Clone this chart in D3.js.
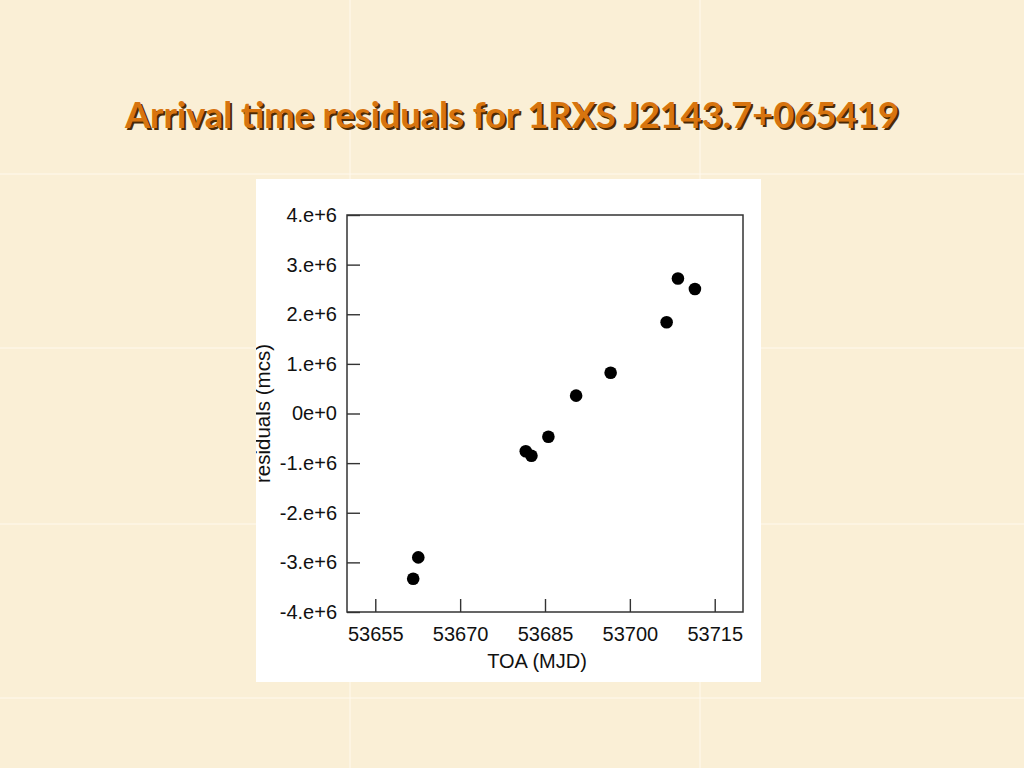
<!DOCTYPE html>
<html>
<head>
<meta charset="utf-8">
<script src="https://cdn.jsdelivr.net/npm/d3@7/dist/d3.min.js"></script>
<style>
  html, body { margin: 0; padding: 0; background: #FAEFD6; }
  svg { display: block; }
</style>
</head>
<body>
<svg id="chart" width="1024" height="768"></svg>
<script>
// ---- data ----
const title = "Arrival time residuals for 1RXS J2143.7+065419";
const toaMJD = [53661.7, 53662.6, 53681.6, 53682.6, 53685.6, 53690.5, 53696.6, 53706.5, 53708.5, 53711.5];
const residualsMcs = [-3.33e6, -2.90e6, -0.76e6, -0.85e6, -0.47e6, 0.36e6, 0.82e6, 1.84e6, 2.72e6, 2.51e6];
const xTicks = [53655, 53670, 53685, 53700, 53715];
const yTicks = [-4e6, -3e6, -2e6, -1e6, 0, 1e6, 2e6, 3e6, 4e6];
const yTickLabels = ["-4.e+6", "-3.e+6", "-2.e+6", "-1.e+6", "0e+0", "1.e+6", "2.e+6", "3.e+6", "4.e+6"];
const xLabel = "TOA (MJD)";
const yLabel = "residuals (mcs)";

const svg = d3.select("#chart");

// background with tile seams
svg.append("rect").attr("width", 1024).attr("height", 768).attr("fill", "#FAEFD6");
const seamsX = [350, 700];
const seamsY = [174, 348, 524, 698];
svg.selectAll("line.sx").data(seamsX).enter().append("line")
  .attr("x1", d => d).attr("x2", d => d).attr("y1", 0).attr("y2", 768)
  .attr("stroke", "#FFF9EE").attr("stroke-width", 1);
svg.selectAll("line.sy").data(seamsY).enter().append("line")
  .attr("x1", 0).attr("x2", 1024).attr("y1", d => d).attr("y2", d => d)
  .attr("stroke", "#FFF9EE").attr("stroke-width", 1);

// title with shadow
const tg = svg.append("g");
const titleFont = "'Comic Sans MS', Lato, 'DejaVu Sans', sans-serif";
tg.append("text").attr("x", 514).attr("y", 130).attr("text-anchor", "middle")
  .attr("font-family", titleFont).attr("font-size", 36).attr("font-weight", "bold")
  .attr("textLength", 774).attr("lengthAdjust", "spacingAndGlyphs")
  .attr("fill", "#4A2A05").text(title);
tg.append("text").attr("x", 512).attr("y", 128).attr("text-anchor", "middle")
  .attr("font-family", titleFont).attr("font-size", 36).attr("font-weight", "bold")
  .attr("textLength", 774).attr("lengthAdjust", "spacingAndGlyphs")
  .attr("fill", "#D7740F").text(title);

// white panel
const panel = { x: 256, y: 179, w: 505, h: 503 };
svg.append("defs").append("clipPath").attr("id", "pclip")
  .append("rect").attr("x", panel.x).attr("y", panel.y).attr("width", panel.w).attr("height", panel.h);
svg.append("rect").attr("x", panel.x).attr("y", panel.y).attr("width", panel.w).attr("height", panel.h).attr("fill", "#FFFFFF");

const plot = { left: 347, right: 743, top: 215, bottom: 612 };
const x = d3.scaleLinear().domain([53650, 53720]).range([plot.left, plot.right]);
const y = d3.scaleLinear().domain([-4e6, 4e6]).range([plot.bottom, plot.top]);

const g = svg.append("g").attr("clip-path", "url(#pclip)");
const font = "Arial, 'Liberation Sans', sans-serif";

// axes (inward ticks)
const yAxis = d3.axisLeft(y).tickValues(yTicks).tickSize(-13)
  .tickFormat((d, i) => yTickLabels[i]).tickPadding(10);
const yg = g.append("g").attr("transform", `translate(${plot.left},0)`).call(yAxis);
const xAxis = d3.axisBottom(x).tickValues(xTicks).tickSize(-13).tickFormat(d3.format("d")).tickPadding(15);
const xg = g.append("g").attr("transform", `translate(0,${plot.bottom})`).call(xAxis);
[yg, xg].forEach(a => {
  a.select(".domain").remove();
  a.selectAll(".tick line").attr("stroke", "#333").attr("stroke-width", 1.4);
  a.selectAll(".tick text").attr("font-family", font).attr("font-size", 20).attr("fill", "#111");
});

// frame
g.append("rect").attr("x", plot.left).attr("y", plot.top)
  .attr("width", plot.right - plot.left).attr("height", plot.bottom - plot.top)
  .attr("fill", "none").attr("stroke", "#333").attr("stroke-width", 1.5);

// axis labels
g.append("text").attr("x", (plot.left + plot.right) / 2 - 8).attr("y", 668)
  .attr("text-anchor", "middle").attr("font-family", font).attr("font-size", 20).attr("fill", "#111").text(xLabel);
g.append("text").attr("transform", `translate(270,${(plot.top + plot.bottom) / 2}) rotate(-90)`)
  .attr("text-anchor", "middle").attr("font-family", font).attr("font-size", 20.5).attr("fill", "#111").text(yLabel);

// points
const pts = toaMJD.map((m, i) => ({ m, r: residualsMcs[i] }));
g.selectAll("circle.pt").data(pts).enter().append("circle").attr("class", "pt")
  .attr("cx", d => x(d.m)).attr("cy", d => y(d.r)).attr("r", 6.3).attr("fill", "#000");
</script>
</body>
</html>
